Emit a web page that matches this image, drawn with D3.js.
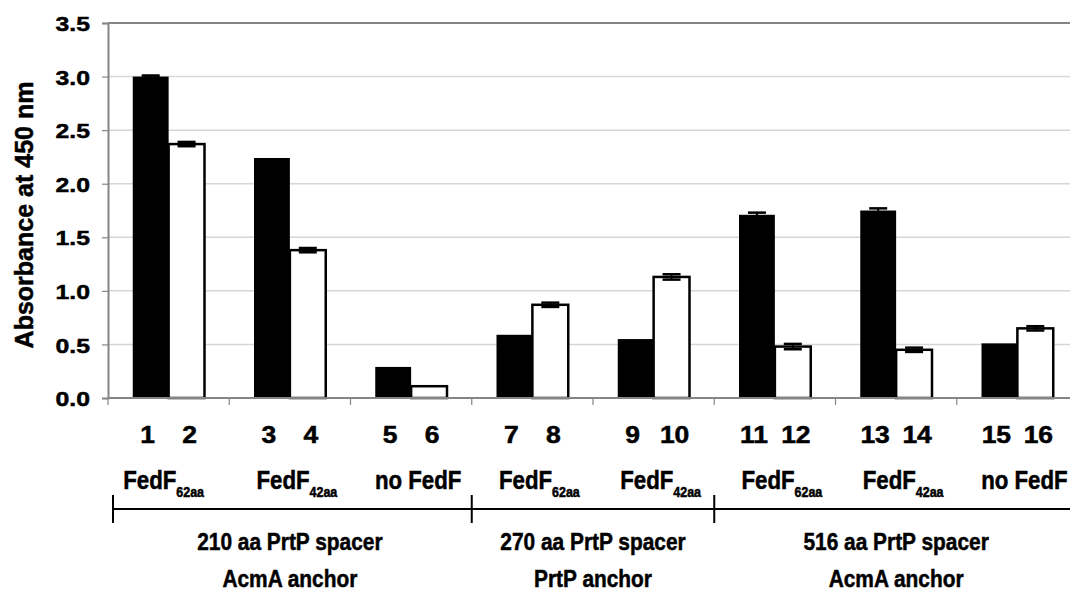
<!DOCTYPE html>
<html>
<head>
<meta charset="utf-8">
<script src="https://cdn.jsdelivr.net/npm/d3@7"></script>
<style>
  html, body { margin: 0; padding: 0; background: #fff; }
  svg { display: block; font-family: "Liberation Sans", Arial, sans-serif; font-weight: bold; }
  text { stroke: #000; stroke-width: 0.5px; fill: #000; }
</style>
</head>
<body>
<svg id="chart" width="1070" height="592"></svg>
<script>
// ---------------- data ----------------
const categories   = ["c1", "c2", "c3", "c4", "c5", "c6", "c7", "c8"];
const seriesKeys   = ["black", "white"];
const blackValues  = [3.00, 2.24, 0.29, 0.59, 0.55, 1.71, 1.75, 0.51];
const whiteValues  = [2.37, 1.38, 0.11, 0.87, 1.13, 0.48, 0.45, 0.65];
const blackErrors  = [0.01, 0.00, 0.00, 0.00, 0.00, 0.02, 0.02, 0.00];
const whiteErrors  = [0.02, 0.02, 0.00, 0.02, 0.025, 0.025, 0.02, 0.02];
const laneNumbers  = [["1","2"],["3","4"],["5","6"],["7","8"],["9","10"],["11","12"],["13","14"],["15","16"]];
const constructMain = ["FedF", "FedF", "no FedF", "FedF", "FedF", "FedF", "FedF", "no FedF"];
const constructSub  = ["62aa", "42aa", "", "62aa", "42aa", "62aa", "42aa", ""];
const groupSpacer  = ["210 aa PrtP spacer", "270 aa PrtP spacer", "516 aa PrtP spacer"];
const groupAnchor  = ["AcmA anchor", "PrtP anchor", "AcmA anchor"];
const groupFirst   = [0, 3, 5];
const groupLast    = [2, 4, 7];
const yTicks       = [0, 0.5, 1.0, 1.5, 2.0, 2.5, 3.0, 3.5];
const yTitle       = "Absorbance at 450 nm";

// ---------------- layout ----------------
const svg = d3.select("#chart");
const plot = { left: 108, right: 1078, top: 23, bottom: 398 };

const x0 = d3.scaleBand().domain(categories).range([plot.left, plot.right]).paddingInner(0).paddingOuter(0);
const x1 = d3.scaleBand().domain(seriesKeys).range([0, x0.bandwidth()]).paddingInner(0).paddingOuter(0.69);
const y  = d3.scaleLinear().domain([0, 3.5]).range([plot.bottom, plot.top]);

const grey = "#858585";

// text helper: horizontally scaled text via transform
function addText(parent, x, yy, str, size, kx, anchor) {
  const g = parent.append("g").attr("transform", `translate(${x},${yy}) scale(${kx},1)`);
  const t = g.append("text").attr("x", 0).attr("y", 0)
    .attr("text-anchor", anchor || "middle").attr("font-size", size).text(str);
  return { g, t, width: t.node().getComputedTextLength() * kx };
}

// gridlines
svg.append("g").selectAll("line").data(yTicks.filter(t => t > 0 && t < 3.5)).join("line")
  .attr("x1", plot.left).attr("x2", plot.right)
  .attr("y1", d => y(d)).attr("y2", d => y(d))
  .attr("stroke", "#d6d6d6").attr("stroke-width", 1.5);

// plot border (top)
svg.append("line").attr("x1", plot.left).attr("x2", plot.right)
  .attr("y1", plot.top).attr("y2", plot.top).attr("stroke", grey).attr("stroke-width", 2);

// y axis
const yAxis = d3.axisLeft(y).tickValues(yTicks).tickFormat(d3.format(".1f")).tickSize(6).tickPadding(12);
const gy = svg.append("g").attr("transform", `translate(${plot.left},0)`).call(yAxis);
gy.select(".domain").attr("stroke", grey).attr("stroke-width", 2);
gy.selectAll(".tick line").attr("stroke", grey).attr("stroke-width", 1.2);
gy.selectAll(".tick text").attr("font-size", 21).attr("font-weight", "bold")
  .attr("font-family", "Liberation Sans, Arial, sans-serif").attr("fill", "#000")
  .attr("x", 0).attr("dy", "0.36em")
  .attr("transform", "translate(-18,0) scale(1.18,1)");

// x axis (category boundaries)
const boundaries = categories.map(c => x0(c)).concat([plot.right]);
svg.append("g").selectAll("line").data(boundaries).join("line")
  .attr("x1", d => d).attr("x2", d => d)
  .attr("y1", plot.bottom).attr("y2", plot.bottom + 7)
  .attr("stroke", grey).attr("stroke-width", 1.2);

// bars
const rows = categories.map((c, i) => ({
  cat: c,
  items: [
    { key: "black", v: blackValues[i], e: blackErrors[i] },
    { key: "white", v: whiteValues[i], e: whiteErrors[i] }
  ]
}));

const catG = svg.append("g").selectAll("g").data(rows).join("g")
  .attr("transform", d => `translate(${x0(d.cat)},0)`);

catG.selectAll("rect").data(d => d.items).join("rect")
  .attr("x", d => x1(d.key))
  .attr("width", x1.bandwidth())
  .attr("y", d => y(d.v))
  .attr("height", d => y(0) - y(d.v))
  .attr("fill", d => d.key === "black" ? "#000" : "#fff")
  .attr("stroke", d => d.key === "black" ? "none" : "#000")
  .attr("stroke-width", 2.5);

// error bars
const capW = 18;
catG.selectAll("g.err").data(d => d.items.filter(it => it.e > 0)).join("g").attr("class", "err")
  .each(function (d) {
    const g = d3.select(this);
    const cx = x1(d.key) + x1.bandwidth() / 2;
    g.append("line").attr("x1", cx).attr("x2", cx).attr("y1", y(d.v - d.e)).attr("y2", y(d.v + d.e))
      .attr("stroke", "#000").attr("stroke-width", 2);
    [d.v - d.e, d.v + d.e].forEach(v => {
      g.append("line").attr("x1", cx - capW / 2).attr("x2", cx + capW / 2)
        .attr("y1", y(v)).attr("y2", y(v)).attr("stroke", "#000").attr("stroke-width", 2.5);
    });
  });

// x axis baseline (drawn over bars)
svg.append("line").attr("x1", plot.left).attr("x2", plot.right)
  .attr("y1", plot.bottom).attr("y2", plot.bottom).attr("stroke", grey).attr("stroke-width", 2);

// lane numbers
const gNum = svg.append("g");
categories.forEach((c, i) => {
  const cx = x0(c) + x0.bandwidth() / 2;
  laneNumbers[i].forEach((n, j) => {
    addText(gNum, cx + (j === 0 ? -21 : 21), 443, n, 23, 1.15, "middle");
  });
});

// construct labels (main text + subscript)
const gLab = svg.append("g");
const kLab = 0.89;
categories.forEach((c, i) => {
  const cx = x0(c) + x0.bandwidth() / 2 + (i === 0 ? -5 : 7);
  const main = addText(gLab, 0, 489, constructMain[i], 25, kLab, "start");
  let total = main.width;
  let sub = null;
  if (constructSub[i]) {
    sub = addText(gLab, 0, 497, constructSub[i], 14, kLab, "start");
    total += sub.width;
  }
  const x0s = Math.min(cx - total / 2, 1068 - total);
  main.g.attr("transform", `translate(${x0s},489) scale(${kLab},1)`);
  if (sub) sub.g.attr("transform", `translate(${x0s + main.width},497) scale(${kLab},1)`);
});

// bracket
const gBr = svg.append("g").attr("stroke", "#000").attr("stroke-width", 2);
gBr.append("line").attr("x1", plot.left + 5).attr("x2", plot.right).attr("y1", 509).attr("y2", 509);
const bracketTicks = [plot.left + 5].concat(groupFirst.slice(1).map(i => x0(categories[i])));
gBr.selectAll("line.tk").data(bracketTicks).join("line").attr("class", "tk")
  .attr("x1", d => d).attr("x2", d => d).attr("y1", 495).attr("y2", 523);

// group labels
const gGrp = svg.append("g");
groupSpacer.forEach((s, k) => {
  const a = x0(categories[groupFirst[k]]);
  const b = x0(categories[groupLast[k]]) + x0.bandwidth();
  const cx = (a + b) / 2;
  addText(gGrp, cx, 550, s, 24, 0.87, "middle");
  addText(gGrp, cx, 587, groupAnchor[k], 24, 0.87, "middle");
});

// y title
svg.append("text").attr("transform", "translate(33,215) rotate(-90)")
  .attr("text-anchor", "middle").attr("font-size", 25).text(yTitle);
</script>
</body>
</html>
